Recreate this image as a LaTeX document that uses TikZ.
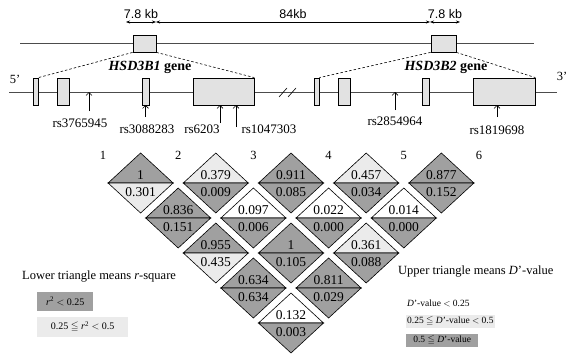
\documentclass[tikz,border=0pt]{standalone}
\usepackage{fontspec}
\setmainfont{Liberation Serif}
\setsansfont{Liberation Sans}
\usepackage{amssymb}
\usetikzlibrary{arrows.meta}
\definecolor{cDark}{HTML}{A0A0A0}
\definecolor{cLight}{HTML}{EBEBEB}
\definecolor{cExon}{HTML}{E2E2E2}
\tikzset{
  exon/.style={draw,thick,fill=cExon,inner sep=0pt,minimum width=#1,minimum height=27pt},
  line-chrom/.style={draw=black!70,line width=0.6pt},
  line-zoom/.style={draw,dashed,dash pattern=on 2.5pt off 2pt,line width=0.6pt},
  arrow-kb/.style={{Stealth[length=4pt]}-{Stealth[length=4pt]},line width=0.7pt},
  arrow-snp/.style={-{Straight Barb[length=3pt]},line width=0.6pt},
  label-kb/.style={font=\sffamily\fontsize{12.5}{14}\selectfont,inner sep=1pt},
  label-snp/.style={font=\fontsize{13}{14}\selectfont,inner sep=0pt},
  label-gene/.style={font=\bfseries\fontsize{14}{16}\selectfont,inner sep=0pt},
  ld-tri/.style={draw,line width=0.6pt},
  ld-val/.style={font=\fontsize{13.5}{14}\selectfont,inner sep=0pt},
  ld-num/.style={font=\fontsize{12.5}{14}\selectfont,inner sep=0pt},
  leg-box/.style={fill=#1,inner sep=1pt,anchor=west,font=\fontsize{10}{12}\selectfont},
}

\begin{document}
\begin{tikzpicture}[x=1pt,y=-1pt,font=\fontsize{12.5}{14}\selectfont]
  \useasboundingbox (0,0) rectangle (567,356);

  % chromosome with the two genes
  \draw[line-chrom] (20,43) -- (534,43);
  \node[exon=23pt,minimum height=17pt] (t1) at (144.5,43.5) {};
  \node[exon=25pt,minimum height=17pt] (t2) at (443.5,43.5) {};
  \coordinate (k0) at (126,22);
  \coordinate (k1) at (156,22);
  \coordinate (k2) at (430,22);
  \coordinate (k3) at (460,22);
  \draw[arrow-kb] (k0) -- node[label-kb,above=2pt] (kb1) {7.8 kb} (k1);
  \draw[arrow-kb] (k1) -- node[label-kb,above=2pt] (kb2) {84kb} (k2);
  \draw[arrow-kb] (k2) -- node[label-kb,above=2pt] (kb3) {7.8 kb} (k3);

  % gene structure
  \draw[line-chrom] (9,92) -- (557,92);
  \draw[line width=0.6pt] (279,97) -- (287,88) (288,97) -- (296,88);
  \node[exon=5pt]  (e1) at (35.5,91.5) {};
  \node[exon=12pt] (e2) at (63,91.5) {};
  \node[exon=7pt]  (e3) at (145.5,91.5) {};
  \node[exon=61pt] (e4) at (223.5,91.5) {};
  \node[exon=5pt]  (f1) at (316.5,91.5) {};
  \node[exon=12pt] (f2) at (344,91.5) {};
  \node[exon=7pt]  (f3) at (426,91.5) {};
  \node[exon=62pt] (f4) at (504,91.5) {};
  \draw[line-zoom] (t1.south west) -- (e1.north east);
  \draw[line-zoom] (t1.south east) -- (e4.north east);
  \draw[line-zoom] (t2.south west) -- (f1.north east);
  \draw[line-zoom] (t2.south east) -- (f4.north east);
  \node[label-gene] (g1) at (150,67) {\textit{HSD3B1} gene};
  \node[label-gene] (g2) at (446,67) {\textit{HSD3B2} gene};
  \node (p5) at (15,79) {5'};
  \node (p3) at (562,76) {3'};

  % SNPs
  \foreach \nm/\x/\yt/\yh in {a/89/111/92,b/145.5/117/105,c/220/123/105,
                              d/236/127/105,e/395/110/92,f/497/117/105}{
    \coordinate (\nm-tail) at (\x,\yt);
    \coordinate (\nm-head) at (\x,\yh);
    \draw[arrow-snp] (\nm-tail) -- (\nm-head);
  }
  \node[label-snp] (rs-a) at (80,123) {rs3765945};
  \node[label-snp] (rs-b) at (147,129) {rs3088283};
  \node[label-snp] (rs-c) at (202,129) {rs6203};
  \node[label-snp] (rs-d) at (269,129) {rs1047303};
  \node[label-snp] (rs-e) at (395,121) {rs2854964};
  \node[label-snp] (rs-f) at (497,130) {rs1819698};

  % LD plot: D' above, r-square below
  \foreach \k in {1,...,6}
    \node[ld-num] (n\k) at ({103+75.2*(\k-1)},155) {\k};
  \foreach \i/\j/\dv/\rv/\dc/\rc in {
      1/2/1/0.301/cDark/cLight, 2/3/0.379/0.009/cLight/cDark,
      3/4/0.911/0.085/cDark/cDark, 4/5/0.457/0.034/cLight/cDark,
      5/6/0.877/0.152/cDark/cDark, 1/3/0.836/0.151/cDark/cDark,
      2/4/0.097/0.006/white/cDark, 3/5/0.022/0.000/white/cDark,
      4/6/0.014/0.000/white/cDark, 1/4/0.955/0.435/cDark/cLight,
      2/5/1/0.105/cDark/cDark, 3/6/0.361/0.088/cLight/cDark,
      1/5/0.634/0.634/cDark/cDark, 2/6/0.811/0.029/cDark/cDark,
      1/6/0.132/0.003/white/cDark}{
    \pgfmathsetmacro{\cx}{103+37.6*(\i+\j-2)}
    \pgfmathsetmacro{\cy}{183+35*(\j-\i-1)}
    \filldraw[ld-tri,fill=\dc] (\cx-32.5,\cy) -- (\cx,\cy-30) -- (\cx+32.5,\cy) -- cycle;
    \filldraw[ld-tri,fill=\rc] (\cx-32.5,\cy) -- (\cx,\cy+30) -- (\cx+32.5,\cy) -- cycle;
    \node[ld-val] (d-\i-\j) at (\cx,\cy-8) {\dv};
    \node[ld-val] (r-\i-\j) at (\cx,\cy+9) {\rv};
  }

  % legends
  \node[anchor=west,inner sep=0pt] (lo-title) at (22,277) {Lower triangle means \textit{r}-square};
  \node[leg-box=cDark,minimum width=56pt,minimum height=19pt] (lo-1) at (37,301.5)
    {\textit{r}\textsuperscript{2} $<$ 0.25};
  \node[leg-box=cLight,minimum width=91pt,minimum height=20pt] (lo-2) at (37,327)
    {0.25 $\leqq$ \textit{r}\textsuperscript{2} $<$ 0.5};
  \node[anchor=west,inner sep=0pt] (up-title) at (398,272) {Upper triangle means \textit{D}'-value};
  \node[leg-box=white,font=\fontsize{9.5}{11}\selectfont] (up-1) at (406,303)
    {\textit{D}'-value $<$ 0.25};
  \node[leg-box=cLight,font=\fontsize{9.5}{11}\selectfont,minimum width=87pt,minimum height=13pt]
    (up-2) at (406,321.5) {0.25 $\leqq$ \textit{D}'-value $<$ 0.5};
  \node[leg-box=cDark,font=\fontsize{9.5}{11}\selectfont,minimum width=72pt,minimum height=13pt]
    (up-3) at (406,340.5) {0.5 $\leqq$ \textit{D}'-value};
\end{tikzpicture}
\end{document}
